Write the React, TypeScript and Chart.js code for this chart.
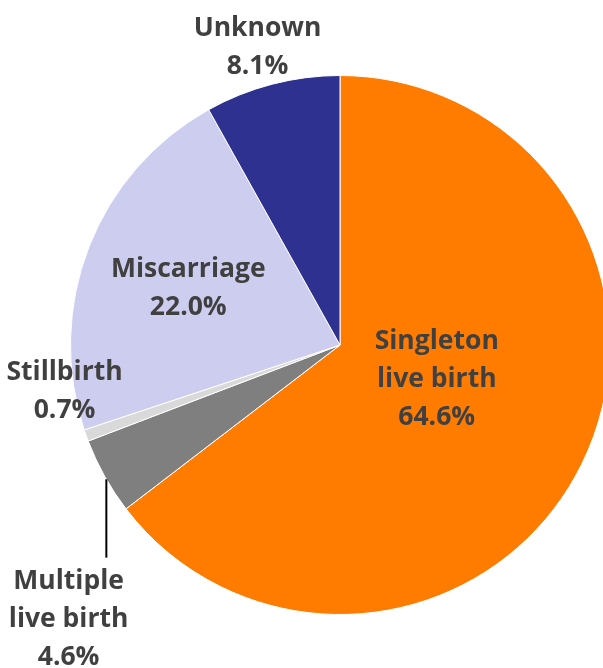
import React, { useEffect, useRef } from "react";
import { Chart, registerables } from "chart.js";

Chart.register(...registerables);

const categories = ["Singleton live birth", "Multiple live birth", "Stillbirth", "Miscarriage", "Unknown"];
const labelLines = [
  ["Singleton", "live birth"],
  ["Multiple", "live birth"],
  ["Stillbirth"],
  ["Miscarriage"],
  ["Unknown"],
];
const shares = [64.6, 4.6, 0.7, 22.0, 8.1];
const colors = ["#FF7C00", "#7F7F7F", "#D9D9D9", "#CDCDEF", "#2E3190"];

// label placement relative to pie centre, in units of radius (dx = text centre, dy = first baseline)
const placement = [
  { dx: 0.359, dy: 0.015 },
  { dx: -1.007, dy: 0.907 },
  { dx: -1.022, dy: 0.13 },
  { dx: -0.563, dy: -0.252 },
  { dx: -0.306, dy: -1.148 },
];

const labelPlugin = {
  id: "pieLabels",
  afterDatasetsDraw(chart: any) {
    const meta = chart.getDatasetMeta(0);
    const arc = meta.data[0];
    if (!arc) return;
    const { x: cx, y: cy, outerRadius: R } = arc.getProps(["x", "y", "outerRadius"], true);
    const ctx = chart.ctx;
    ctx.save();
    // leader line for Multiple live birth
    const lx = cx - 0.867 * R;
    const ly0 = cy + Math.sqrt(1 - 0.867 * 0.867) * R;
    const ly1 = cy + 0.789 * R;
    ctx.strokeStyle = "#000000";
    ctx.lineWidth = 2;
    ctx.beginPath();
    ctx.moveTo(lx, ly0);
    ctx.lineTo(lx, ly1);
    ctx.stroke();

    ctx.fillStyle = "#404040";
    ctx.font = "bold 26.5px 'Open Sans'";
    ctx.textAlign = "center";
    ctx.textBaseline = "alphabetic";
    const lineGap = 38;
    categories.forEach((_, i) => {
      const p = placement[i];
      const x = cx + p.dx * R;
      let y = cy + p.dy * R;
      const lines = [...labelLines[i], shares[i].toFixed(1) + "%"];
      lines.forEach((t) => {
        ctx.fillText(t, x, y);
        y += lineGap;
      });
    });
    ctx.restore();
  },
};

export default function App() {
  const ref = useRef<HTMLCanvasElement>(null);
  useEffect(() => {
    if (!ref.current) return;
    const chart = new Chart(ref.current, {
      type: "pie",
      data: {
        labels: categories,
        datasets: [
          {
            data: shares,
            backgroundColor: colors,
            borderColor: "#FFFFFF",
            borderWidth: 1,
          },
        ],
      },
      options: {
        responsive: false,
        animation: false,
        layout: { padding: { left: 70, top: 75, right: 10, bottom: 53 } },
        plugins: {
          legend: { display: false },
          tooltip: { enabled: false },
        },
      },
      plugins: [labelPlugin],
    });
    return () => chart.destroy();
  }, []);
  return (
    <div style={{ position: "fixed", left: 0, top: 0, width: 603, height: 668, overflow: "hidden", background: "#fff" }}>
      <canvas ref={ref} width={620} height={668} style={{ width: 620, height: 668, display: "block" }} />
    </div>
  );
}
